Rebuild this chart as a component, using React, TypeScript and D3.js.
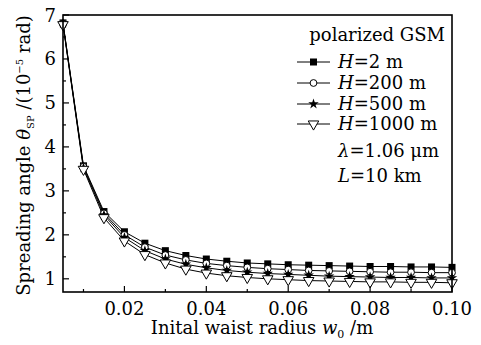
import React from "react";
import * as d3 from "d3";

const waist = [0.005, 0.01, 0.015, 0.02, 0.025, 0.03, 0.035, 0.04, 0.045, 0.05, 0.055, 0.06, 0.065, 0.07, 0.075, 0.08, 0.085, 0.09, 0.095, 0.1];
const h2 = [6.82, 3.57, 2.53, 2.07, 1.81, 1.64, 1.53, 1.45, 1.4, 1.36, 1.34, 1.32, 1.31, 1.3, 1.29, 1.28, 1.28, 1.27, 1.27, 1.26];
const h200 = [6.81, 3.55, 2.49, 2.0, 1.72, 1.54, 1.43, 1.35, 1.3, 1.26, 1.23, 1.21, 1.19, 1.18, 1.17, 1.16, 1.15, 1.15, 1.14, 1.14];
const h500 = [6.8, 3.52, 2.45, 1.94, 1.64, 1.45, 1.33, 1.25, 1.19, 1.15, 1.12, 1.1, 1.08, 1.06, 1.05, 1.04, 1.03, 1.03, 1.02, 1.02];
const h1000 = [6.78, 3.49, 2.39, 1.86, 1.55, 1.36, 1.22, 1.13, 1.07, 1.03, 1.0, 0.98, 0.96, 0.95, 0.94, 0.93, 0.93, 0.92, 0.92, 0.91];
const seriesLabels = ["2", "200", "500", "1000"];
const markerTypes = ["square", "circle", "star", "triangle"];
const xTicks = [0.02, 0.04, 0.06, 0.08, 0.1];
const xMinor = [0.01, 0.03, 0.05, 0.07, 0.09];
const yTicks = [1, 2, 3, 4, 5, 6, 7];
const yMinor = [1.5, 2.5, 3.5, 4.5, 5.5, 6.5];

const FONT = "'DejaVu Serif', serif";
const FS = 18;

function Marker({ type, x, y }: { type: string; x: number; y: number }) {
  if (type === "square") return <rect x={x - 3.5} y={y - 3.5} width={7} height={7} fill="#000" />;
  if (type === "circle") return <circle cx={x} cy={y} r={3.4} fill="#fff" stroke="#000" strokeWidth={1} />;
  if (type === "star") {
    const p = d3.symbol().type(d3.symbolStar).size(34)();
    return <path d={p || ""} transform={`translate(${x},${y})`} fill="#000" />;
  }
  const p = d3.symbol().type(d3.symbolTriangle).size(48)();
  return <path d={p || ""} transform={`translate(${x},${y}) rotate(180)`} fill="#fff" stroke="#000" strokeWidth={1} />;
}

export default function App() {
  const W = 481, H = 345;
  const L = 63, R = 452, T = 15, B = 292;
  const x = d3.scaleLinear().domain([0.005, 0.1]).range([L, R]);
  const y = d3.scaleLinear().domain([0.7, 7]).range([B, T]);
  const all = [h2, h200, h500, h1000];
  const line = d3.line<number>().x((_, i) => x(waist[i])).y((d) => y(d));
  const legX0 = 297, legX1 = 330, legTx = 338;
  const legRows = [62, 83, 104, 124];
  return (
    <svg width={W} height={H} style={{ position: "absolute", left: 0, top: 0, background: "#fff", fontFamily: FONT }}>
      <rect x={0} y={0} width={W} height={H} fill="#fff" />
      {all.map((s, k) => (
        <path key={"l" + k} d={line(s) || ""} fill="none" stroke="#000" strokeWidth={1} />
      ))}
      {all.map((s, k) =>
        s.map((v, i) => <Marker key={k + "-" + i} type={markerTypes[k]} x={x(waist[i])} y={y(v)} />)
      )}
      <rect x={L} y={T} width={R - L} height={B - T} fill="none" stroke="#000" strokeWidth={1.6} />
      {xTicks.map((t) => (
        <g key={"xt" + t}>
          <line x1={x(t)} x2={x(t)} y1={B} y2={B - 6} stroke="#000" strokeWidth={1.2} />
          <text x={x(t)} y={B + 23} textAnchor="middle" fontSize={FS}>{t.toFixed(2)}</text>
        </g>
      ))}
      {xMinor.map((t) => (
        <line key={"xm" + t} x1={x(t)} x2={x(t)} y1={B} y2={B - 3} stroke="#000" strokeWidth={1.2} />
      ))}
      {yTicks.map((t) => (
        <g key={"yt" + t}>
          <line x1={L} x2={L + 6} y1={y(t)} y2={y(t)} stroke="#000" strokeWidth={1.2} />
          <text x={L - 7} y={y(t) + 6.5} textAnchor="end" fontSize={FS}>{t}</text>
        </g>
      ))}
      {yMinor.map((t) => (
        <line key={"ym" + t} x1={L} x2={L + 3} y1={y(t)} y2={y(t)} stroke="#000" strokeWidth={1.2} />
      ))}
      <text x={262} y={334} textAnchor="middle" fontSize={FS}>
        Inital waist radius <tspan fontStyle="italic">w</tspan>
        <tspan fontSize={11} dy={4}>0</tspan>
        <tspan dy={-4}> /m</tspan>
      </text>
      <text transform={`translate(30,${(T + B) / 2 + 2}) rotate(-90)`} textAnchor="middle" fontSize={FS}>
        Spreading angle <tspan fontStyle="italic">θ</tspan>
        <tspan fontSize={10} dy={4}>SP</tspan>
        <tspan dy={-4}> /(10</tspan>
        <tspan fontSize={10} dy={-7}>−5</tspan>
        <tspan dy={7}> rad)</tspan>
      </text>
      <text x={445} y={41} textAnchor="end" fontSize={FS}>polarized GSM</text>
      {seriesLabels.map((lab, k) => (
        <g key={"lg" + k}>
          <line x1={legX0} x2={legX1} y1={legRows[k]} y2={legRows[k]} stroke="#000" strokeWidth={1} />
          <Marker type={markerTypes[k]} x={(legX0 + legX1) / 2} y={legRows[k]} />
          <text x={legTx} y={legRows[k] + 6} fontSize={FS}>
            <tspan fontStyle="italic">H</tspan>={lab} m
          </text>
        </g>
      ))}
      <text x={legTx} y={157} fontSize={FS}>
        <tspan fontStyle="italic">λ</tspan>=1.06 μm
      </text>
      <text x={legTx} y={182} fontSize={FS}>
        <tspan fontStyle="italic">L</tspan>=10 km
      </text>
    </svg>
  );
}
